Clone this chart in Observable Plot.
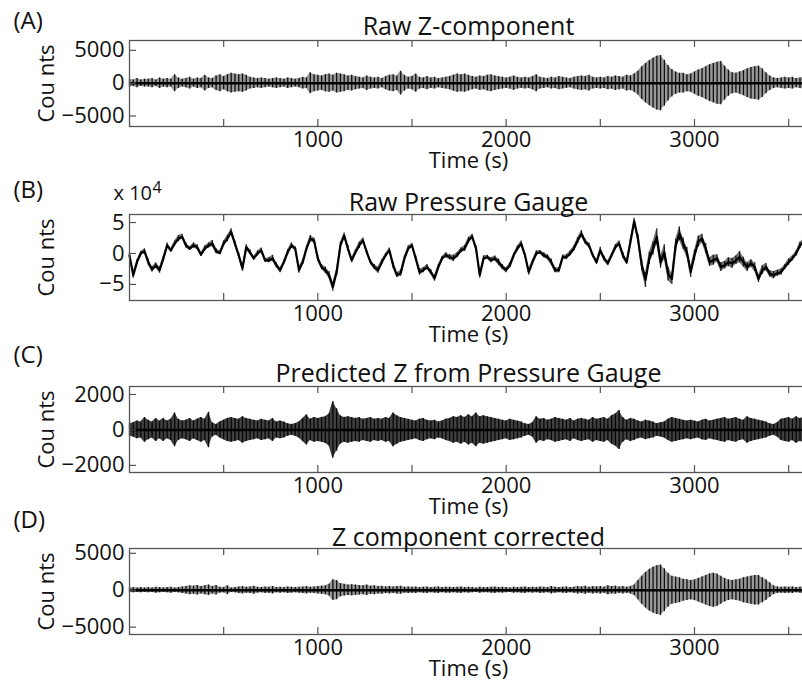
<!DOCTYPE html>
<html><head><meta charset="utf-8">
<script src="https://cdn.jsdelivr.net/npm/d3@7"></script>
<script src="https://cdn.jsdelivr.net/npm/@observablehq/plot@0.6"></script>
<style>
html,body{margin:0;padding:0;background:#fff;overflow:hidden;width:802px;height:683px;}
#wrap{position:relative;width:802px;height:683px;overflow:hidden;}
#wrap svg{position:absolute;left:0;}
</style></head><body><div id="wrap"></div>
<script>
// sampling step of the traces (seconds)
const DT = 20;

// (A) Raw Z-component: envelope half-amplitude (counts), every 20 s from t = 0
const zRaw = [
  600,500,700,500,600,600,700,500,800,600,
  700,600,1300,800,600,700,900,600,800,700,
  1200,800,700,1100,1300,1000,1300,1500,1400,1300,
  1400,1200,900,800,700,800,700,600,700,800,
  700,600,800,700,600,700,900,800,1600,1300,
  1200,1100,1300,1400,1200,1500,1400,1300,1100,1200,
  1000,900,800,1100,900,800,900,700,1000,1200,
  1300,1100,1800,1200,900,1000,1400,900,800,1000,
  800,900,700,800,900,1000,1200,1400,1300,1400,
  1200,1000,900,1100,1000,1200,1300,1100,1000,900,
  800,900,1100,900,800,900,800,1000,1300,900,
  800,700,900,800,1000,900,800,700,900,1000,
  1100,1000,1200,900,800,900,800,1000,900,1100,
  1000,900,1200,1100,1400,1800,2500,3000,3400,3800,
  4100,4200,3500,2700,2100,1700,1500,1500,1300,1400,
  1700,2000,2200,2500,2800,3000,3200,3300,2600,2000,
  1600,1500,1700,1900,2200,2400,2500,2600,2200,1600,
  1100,800,700,800,900,800,900,700,800,900
];

// (B) Raw pressure gauge: trace value (x 10^4 counts), every 20 s
const pressure = [
  -0.3,-3.5,-1.4,0,0.35,-1.4,-2.6,-1.9,-2.7,-0.8,
  1.3,0.5,1.6,2.4,2.7,1.3,0.8,1.3,1.0,-0.2,
  0.8,1.3,1.6,0.35,0.1,1.6,2.4,3.5,1.6,-0.3,
  -2.4,1.0,0.2,-0.8,0,0.5,-1.1,-1.1,-0.8,-1.9,
  -2.7,-1.4,0.2,1.3,0.8,-2.7,-1.4,0.8,2.4,2.1,
  -0.8,-2.2,-2.7,-3.5,-5.4,-3.0,1.3,2.9,0.8,-1.1,
  0.2,1.3,2.1,0.2,-1.4,-2.2,-2.7,-1.4,-0.3,0.5,
  -1.9,-3.5,-3.2,-0.8,0.8,1.3,-0.8,-3.0,-2.7,-2.2,
  -3.0,-4.0,-2.2,-0.8,-0.3,-0.6,-0.8,-0.3,0.5,0.8,
  2.1,2.7,0.8,-3.5,-0.8,-0.6,-1.1,-0.8,-1.4,-2.2,
  -2.7,-1.9,-0.3,0.8,1.6,-0.3,-3.0,-1.4,0,0.2,
  -0.3,-0.6,-1.4,-2.7,-2.7,-0.6,-0.6,0,0.8,2.1,
  3.2,1.9,1.3,-0.3,-1.4,0.5,-0.8,-1.6,-0.3,1.0,
  1.6,-0.3,-1.4,1.9,5.2,2.4,-1.9,-4.3,-0.8,0.8,
  2.7,-1.4,0.2,-3.3,-4.1,1.3,3.2,1.6,0.2,-3.0,
  -0.3,1.9,2.4,0.8,-1.4,-1.1,-0.8,-2.2,-1.9,-1.4,
  -1.6,-1.1,-0.6,-1.4,-2.2,-1.6,-2.2,-4.1,-2.7,-2.2,
  -3.3,-3.5,-3.2,-3.0,-2.2,-1.4,-0.8,0,1.3,1.9
];
// (B) high-frequency fuzz half-width around the trace (x 10^4 counts)
const pressureFuzz = [
  0.4,0.5,0.4,0.3,0.4,0.5,0.4,0.4,0.5,0.4,
  0.4,0.3,0.4,0.5,0.4,0.4,0.3,0.4,0.4,0.3,
  0.4,0.4,0.5,0.4,0.3,0.4,0.5,0.5,0.4,0.4,
  0.5,0.4,0.4,0.3,0.4,0.4,0.3,0.4,0.5,0.4,
  0.4,0.3,0.4,0.4,0.3,0.5,0.4,0.4,0.5,0.4,
  0.5,0.4,0.5,0.6,0.7,0.6,0.5,0.4,0.5,0.4,
  0.4,0.5,0.4,0.3,0.4,0.4,0.5,0.4,0.3,0.4,
  0.5,0.4,0.5,0.4,0.4,0.3,0.4,0.5,0.4,0.4,
  0.4,0.5,0.4,0.3,0.4,0.4,0.5,0.4,0.4,0.5,
  0.5,0.4,0.4,0.5,0.4,0.3,0.4,0.4,0.5,0.4,
  0.4,0.4,0.3,0.4,0.4,0.3,0.5,0.4,0.4,0.3,
  0.4,0.4,0.5,0.4,0.4,0.3,0.4,0.4,0.4,0.5,
  0.5,0.4,0.4,0.3,0.4,0.5,0.4,0.4,0.3,0.4,
  0.4,0.5,0.4,0.5,0.5,0.7,0.9,1.2,1.0,1.1,
  1.3,1.0,1.2,1.1,0.9,1.0,1.1,0.9,0.8,0.9,
  0.8,0.9,0.7,0.8,0.7,0.8,0.6,0.7,0.6,0.7,
  0.8,0.7,0.9,0.8,0.7,0.6,0.7,0.6,0.7,0.6,
  0.5,0.6,0.5,0.5,0.4,0.5,0.4,0.4,0.5,0.4
];

// (C) Predicted Z from pressure gauge: envelope half-amplitude (counts)
const zPred = [
  350,400,500,450,700,550,450,650,500,650,
  500,600,950,600,500,550,650,500,600,700,
  600,1000,400,300,450,550,650,700,650,600,
  750,650,600,550,500,600,550,500,650,450,
  500,450,350,300,350,450,650,850,600,700,
  650,700,750,900,1600,1200,800,700,750,700,
  650,700,600,650,700,600,650,600,700,650,
  950,800,700,650,600,550,500,600,650,550,
  500,550,450,500,600,650,750,700,800,700,
  850,750,950,750,800,750,700,650,600,550,
  500,600,550,500,450,350,300,400,750,600,
  650,550,600,700,650,600,550,650,500,600,
  650,600,550,700,600,650,700,600,800,900,
  1100,700,550,650,600,500,450,550,500,450,
  350,400,450,600,700,650,600,550,500,550,
  500,450,550,600,500,550,600,650,700,600,
  650,700,600,550,750,650,600,550,500,450,
  350,300,400,600,650,700,600,750,650,700
];

// (D) Z component corrected: envelope half-amplitude (counts)
const zCorr = [
  300,350,300,350,300,350,300,400,350,300,
  350,400,300,350,450,500,600,550,650,500,
  600,700,500,650,400,350,600,300,350,450,
  500,400,450,550,400,350,450,400,500,350,
  400,350,450,400,350,400,450,500,400,450,
  500,550,600,800,1400,1300,900,800,700,750,
  700,650,600,700,550,600,500,550,450,500,
  450,500,550,400,450,400,450,350,400,450,
  350,400,450,350,400,400,350,400,450,350,
  400,350,300,400,350,350,400,450,350,400,
  350,300,400,350,400,450,350,400,350,450,
  400,350,500,400,350,400,450,350,400,500,
  450,550,400,500,450,500,400,600,500,550,
  450,500,400,500,700,1300,1900,2400,2800,3100,
  3300,3400,2900,2300,1900,1800,1700,1500,1400,1300,
  1400,1600,1800,2000,2200,2300,2200,1900,1600,1400,
  1300,1400,1500,1700,1800,1900,2000,2000,1700,1400,
  1000,600,450,400,450,400,450,350,400,450
];

const xTicks = [500, 1000, 1500, 2000, 2500, 3000, 3500];
const xTickLabels = [1000, 2000, 3000];
const yTicksA = [-5000, 0, 5000];
const yTicksB = [-5, 0, 5];
const yTicksC = [-2000, 0, 2000];
const yTicksD = [-5000, 0, 5000];
const letters = ["(A)", "(B)", "(C)", "(D)"];
const titles = ["Raw Z-component", "Raw Pressure Gauge", "Predicted Z from Pressure Gauge", "Z component corrected"];
const yLabel = "Cou nts";
const xLabel = "Time (s)";

const FONT = "'Open Sans', sans-serif";
const W = 810, ML = 129, MR = 3, MT = 44, MB = 48, FH = 86;
const INK = "#111", FRAME = "#555";

function envelopeMarks(amp, fillOpacity) {
  const rows = amp.map((a, i) => ({t: i * DT, lo: -a, hi: a}));
  return [
    Plot.areaY(rows, {x: "t", y1: "lo", y2: "hi", fill: "#000", fillOpacity}),
    Plot.ruleX(rows, {x: "t", y1: "lo", y2: "hi", stroke: "#000", strokeWidth: 1.3, strokeOpacity: 0.9}),
    Plot.ruleY([0], {stroke: "#000", strokeWidth: 2.5})
  ];
}

function traceMarks(vals, fuzz) {
  const rows = vals.map((v, i) => ({t: i * DT, v, lo: v - fuzz[i], hi: v + fuzz[i]}));
  return [
    Plot.areaY(rows, {x: "t", y1: "lo", y2: "hi", fill: "#000", fillOpacity: 0.55}),
    Plot.ruleX(rows, {x: "t", y1: "lo", y2: "hi", stroke: "#000", strokeWidth: 1.2, strokeOpacity: 0.85}),
    Plot.lineY(rows, {x: "t", y: "v", stroke: "#000", strokeWidth: 2.2})
  ];
}

function panel({top, yDomain, yTicks, data, letter, title, letterDy, titleDy, extra = []}) {
  const svg = Plot.plot({
    width: W, height: MT + FH + MB,
    marginLeft: ML, marginRight: MR, marginTop: MT, marginBottom: MB,
    x: {domain: [0, 3600]},
    y: {domain: yDomain},
    style: {fontFamily: FONT, fontSize: "22px", color: INK, background: "transparent", maxWidth: "none", overflow: "visible"},
    marks: [
      ...data,
      Plot.frame({stroke: FRAME, strokeWidth: 1.3}),
      Plot.ruleX(xTicks, {x: d => d, insetBottom: FH - 7, stroke: FRAME, strokeWidth: 1.2}),
      Plot.ruleX(xTicks, {x: d => d, insetTop: FH - 7, stroke: FRAME, strokeWidth: 1.2}),
      Plot.ruleY(yTicks, {y: d => d, insetRight: W - ML - MR - 7, stroke: FRAME, strokeWidth: 1.2}),
      Plot.axisX(xTickLabels, {tickSize: 0, tickPadding: 4.5, label: null, tickFormat: d3.format("d"), fontSize: 22}),
      Plot.axisY(yTicks, {tickSize: 0, tickPadding: 5, label: null, tickFormat: d3.format("d"), fontSize: 22}),
      Plot.text([title], {frameAnchor: "top", dy: titleDy, lineAnchor: "bottom", fontSize: 25, fill: INK}),
      Plot.text([letter], {frameAnchor: "top-left", dx: 13 - ML, dy: letterDy, textAnchor: "start", lineAnchor: "bottom", fontSize: 24, fill: INK}),
      Plot.text([xLabel], {frameAnchor: "bottom", dy: 41, lineAnchor: "bottom", fontSize: 22, fill: INK}),
      Plot.text([yLabel], {frameAnchor: "left", dx: 53 - ML, rotate: -90, textAnchor: "middle", lineAnchor: "bottom", fontSize: 22, fill: INK}),
      ...extra
    ]
  });
  svg.style.top = top + "px";
  document.getElementById("wrap").appendChild(svg);
}

panel({top: 39.5 - MT, yDomain: [-6600, 6500], yTicks: yTicksA, data: envelopeMarks(zRaw, 0.4),
  letter: letters[0], title: titles[0], letterDy: -11.5, titleDy: -6});
panel({top: 214.3 - MT, yDomain: [-7.6, 6.3], yTicks: yTicksB, data: traceMarks(pressure, pressureFuzz),
  letter: letters[1], title: titles[1], letterDy: -17, titleDy: -4,
  extra: [
    Plot.text(["x 10"], {frameAnchor: "top-left", dx: 113 - ML, dy: -15, textAnchor: "start", lineAnchor: "bottom", fontSize: 20, fill: INK}),
    Plot.text(["4"], {frameAnchor: "top-left", dx: 152 - ML, dy: -22, textAnchor: "start", lineAnchor: "bottom", fontSize: 16, fill: INK})
  ]});
panel({top: 386 - MT, yDomain: [-2400, 2450], yTicks: yTicksC, data: envelopeMarks(zPred, 0.75),
  letter: letters[2], title: titles[2], letterDy: -24, titleDy: -5});
panel({top: 548.3 - MT, yDomain: [-6000, 5650], yTicks: yTicksD, data: envelopeMarks(zCorr, 0.4),
  letter: letters[3], title: titles[3], letterDy: -21, titleDy: -3});
</script></body></html>
